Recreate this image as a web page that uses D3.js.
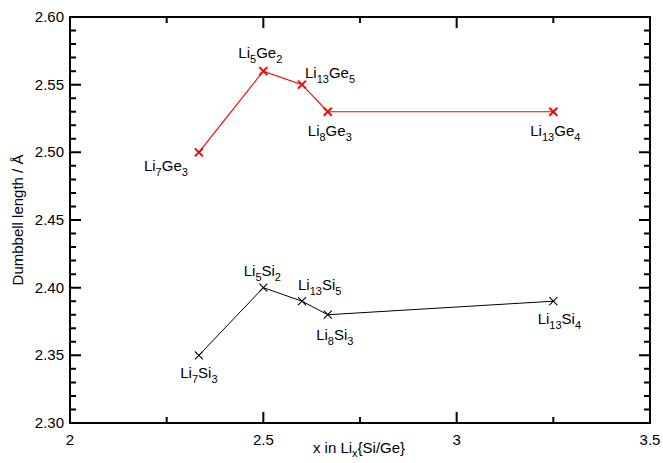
<!DOCTYPE html>
<html><head><meta charset="utf-8">
<script src="https://cdn.jsdelivr.net/npm/d3@7"></script>
<style>body{margin:0;background:#fff}svg{display:block}text{font-family:"Liberation Sans",Arial,Helvetica,sans-serif;fill:#000}</style>
</head><body><svg id="c" width="663" height="463" xmlns="http://www.w3.org/2000/svg"></svg>
<script>
const geX = [7/3, 2.5, 2.6, 8/3, 3.25];
const geY = [2.50, 2.56, 2.55, 2.53, 2.53];
const geLabels = [["Li","7","Ge","3"],["Li","5","Ge","2"],["Li","13","Ge","5"],["Li","8","Ge","3"],["Li","13","Ge","4"]];
const siX = [7/3, 2.5, 2.6, 8/3, 3.25];
const siY = [2.35, 2.40, 2.39, 2.38, 2.39];
const siLabels = [["Li","7","Si","3"],["Li","5","Si","2"],["Li","13","Si","5"],["Li","8","Si","3"],["Li","13","Si","4"]];
const xTicks = [2, 2.5, 3, 3.5];
const xMinor = [2.25, 2.75, 3.25];
const yTicks = [2.30, 2.35, 2.40, 2.45, 2.50, 2.55, 2.60];
const yMinor = [2.31,2.32,2.33,2.34,2.36,2.37,2.38,2.39,2.41,2.42,2.43,2.44,2.46,2.47,2.48,2.49,2.51,2.52,2.53,2.54,2.56,2.57,2.58,2.59];

const geOff = [[-11,19,"end"],[-3,-13,"middle"],[3,-7,"start"],[2,24,"middle"],[2,24,"middle"]];
const siOff = [[0,23,"middle"],[-1,-12,"middle"],[-4,-11,"start"],[7,25,"middle"],[6,23,"middle"]];

const L=70,R=650,T=17,B=423;
const svg=d3.select("#c");
const x=d3.scaleLinear().domain([2,3.5]).range([L,R]);
const y=d3.scaleLinear().domain([2.30,2.60]).range([B,T]);

// tick labels
svg.append("g").selectAll("text").data(xTicks).join("text")
  .attr("x",d=>x(d)).attr("y",B+22).attr("text-anchor","middle").attr("font-size",15)
  .text(d=>d3.format("")(d));
svg.append("g").selectAll("text").data(yTicks).join("text")
  .attr("x",L-6).attr("y",d=>y(d)+5).attr("text-anchor","end").attr("font-size",15)
  .text(d=>d3.format(".2f")(d));

// axis titles
svg.append("text").attr("transform",`translate(23,${(T+B)/2}) rotate(-90)`).attr("text-anchor","middle")
  .attr("font-size",15).text("Dumbbell length / Å");
const xt=svg.append("text").attr("x",359).attr("y",453).attr("text-anchor","middle").attr("font-size",15);
xt.append("tspan").text("x in Li");
xt.append("tspan").attr("font-size",11).attr("dy",4).text("x");
xt.append("tspan").attr("dy",-4).text("{Si/Ge}");

function series(xs,ys,labels,offs,color,lw,mw){
  const pts=xs.map((v,i)=>[v,ys[i]]);
  svg.append("path").datum(pts).attr("fill","none").attr("stroke",color).attr("stroke-width",lw)
    .attr("d",d3.line().x(d=>x(d[0])).y(d=>y(d[1])));
  const s=4;
  svg.append("g").selectAll("path").data(pts).join("path")
    .attr("d",p=>{const cx=x(p[0]),cy=y(p[1]);return `M${cx-s},${cy-s}L${cx+s},${cy+s}M${cx-s},${cy+s}L${cx+s},${cy-s}`;})
    .attr("stroke",color).attr("stroke-width",mw).attr("fill","none");
  pts.forEach((p,i)=>{
    const o=offs[i], lab=labels[i];
    const t=svg.append("text").attr("x",x(p[0])+o[0]).attr("y",y(p[1])+o[1])
      .attr("text-anchor",o[2]).attr("font-size",15);
    t.append("tspan").text(lab[0]);
    t.append("tspan").attr("font-size",11).attr("dy",5).text(lab[1]);
    t.append("tspan").attr("dy",-5).text(lab[2]);
    t.append("tspan").attr("font-size",11).attr("dy",5).text(lab[3]);
  });
}
series(geX,geY,geLabels,geOff,"#ff0000",1.2,2);
series(siX,siY,siLabels,siOff,"#000000",1,1.1);

// frame and inward ticks on all four sides, drawn last as one path
let d=`M${L},${T}H${R}V${B}H${L}Z`;
xTicks.forEach(v=>{d+=`M${x(v)},${B}v-11M${x(v)},${T}v11`;});
xMinor.forEach(v=>{d+=`M${x(v)},${B}v-6M${x(v)},${T}v6`;});
yTicks.forEach(v=>{d+=`M${L},${y(v)}h11M${R},${y(v)}h-11`;});
yMinor.forEach(v=>{d+=`M${L},${y(v)}h6M${R},${y(v)}h-6`;});
svg.append("path").attr("d",d).attr("fill","none").attr("stroke","#000").attr("stroke-width",2);
</script></body></html>
